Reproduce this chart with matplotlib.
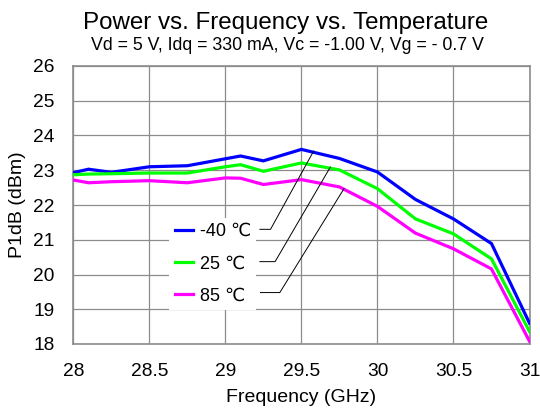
import matplotlib
matplotlib.use("Agg")
import matplotlib.pyplot as plt

plt.rcParams['font.family'] = ['Liberation Sans', 'DejaVu Sans']

freq = [28.0, 28.1, 28.25, 28.5, 28.75, 29.0, 29.1, 29.25, 29.5, 29.75, 30.0, 30.25, 30.5, 30.75, 31.0]
p_m40 = [22.93, 23.03, 22.94, 23.10, 23.13, 23.33, 23.41, 23.27, 23.60, 23.34, 22.95, 22.16, 21.60, 20.89, 18.60]
p_25 = [22.87, 22.89, 22.90, 22.92, 22.92, 23.10, 23.16, 22.97, 23.21, 23.01, 22.47, 21.60, 21.17, 20.45, 18.36]
p_85 = [22.72, 22.64, 22.67, 22.70, 22.64, 22.78, 22.77, 22.59, 22.73, 22.52, 21.96, 21.19, 20.74, 20.16, 18.08]
labels = ['-40 \u2103', '25 \u2103', '85 \u2103']
colors = ['#0000ff', '#00ff00', '#ff00ff']
xticks = [28, 28.5, 29, 29.5, 30, 30.5, 31]
xticklabels = ['28', '28.5', '29', '29.5', '30', '30.5', '31']
yticks = [18, 19, 20, 21, 22, 23, 24, 25, 26]

fig = plt.figure(figsize=(5.4, 4.12), dpi=100)
ax = fig.add_axes([73.3/540, 1-344/412, (529.5-73.3)/540, (344-66)/412])

lines = []
for ys, c, lab in zip([p_m40, p_25, p_85], colors, labels):
    ln, = ax.plot(freq, ys, color=c, lw=2.3, label=lab, solid_joinstyle='miter', zorder=3)
    lines.append(ln)

ax.set_xlim(28, 31)
ax.set_ylim(18, 26)
ax.set_xticks(xticks)
ax.set_xticklabels(xticklabels)
ax.set_yticks(yticks)
ax.grid(True, color='#8c8c8c', lw=0.9)
ax.set_axisbelow(True)
for s in ax.spines.values():
    s.set_color('#8c8c8c')
    s.set_linewidth(1.2)
ax.tick_params(axis='both', length=0, labelsize=13.8)
ax.tick_params(axis='y', pad=13.5)
ax.tick_params(axis='x', pad=13.5)
ax.set_xlabel('Frequency (GHz)', fontsize=14, labelpad=7)
ax.set_ylabel('P1dB (dBm)', fontsize=14, labelpad=5)

leg = ax.legend(handles=lines, loc='center left', bbox_to_anchor=(0.21, 0.288),
                fontsize=13, frameon=True, fancybox=False, edgecolor='none',
                facecolor='white', framealpha=1, handlelength=1.05,
                handletextpad=0.35, labelspacing=0.85, borderpad=0.3,
                borderaxespad=0)
leg.set_zorder(5)

# leader lines: (text-end x, y) -> corner x -> curve point
leaders = [
    ((29.227, 21.30), 29.297, (29.58, 23.55)),
    ((29.227, 20.37), 29.327, (29.69, 23.09)),
    ((29.231, 19.48), 29.358, (29.78, 22.47)),
]
for (x0, y0), xc, (x1, y1) in leaders:
    ax.plot([x0, xc, x1], [y0, y0, y1], color='black', lw=0.7, zorder=6)

fig.text(286/540, 1-23/412, 'Power vs. Frequency vs. Temperature', ha='center', va='center', fontsize=17.4)
fig.text(287/540, 1-45.5/412, 'Vd = 5 V, Idq = 330 mA, Vc = -1.00 V, Vg = - 0.7 V', ha='center', va='center', fontsize=12.8)

fig.savefig('out.png', dpi=100)
